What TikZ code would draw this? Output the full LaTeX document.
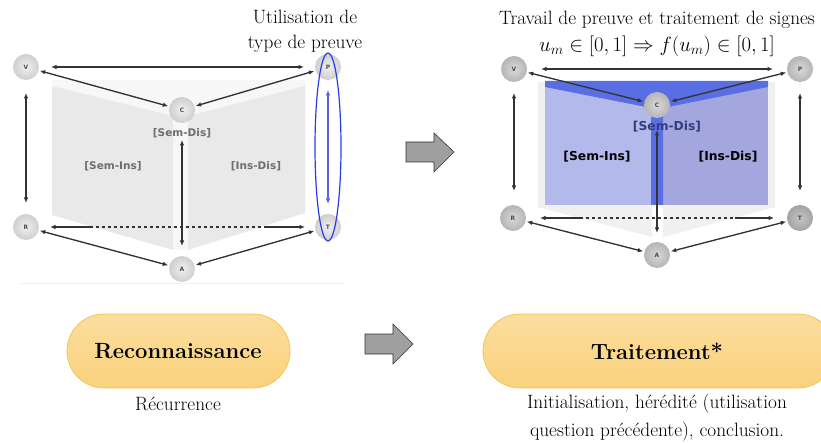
\documentclass[tikz,border=0pt]{standalone}
\usepackage{fontspec}
\usetikzlibrary{arrows.meta,shapes.geometric}
\newfontfamily\lblfont{DejaVu Sans}
\definecolor{pill}{RGB}{250,210,125}
\definecolor{pilledge}{RGB}{245,195,90}
\definecolor{bandblue}{RGB}{90,110,228}
\definecolor{lblue}{RGB}{180,185,236}
\definecolor{dblue}{RGB}{163,167,221}
\definecolor{ovalblue}{RGB}{40,60,230}
\definecolor{lbltxt}{RGB}{110,110,110}
\definecolor{semdis}{RGB}{50,60,130}
\begin{document}
\begin{tikzpicture}[x=1pt,y=-1pt,
  ball/.style 2 args={circle,minimum size=26pt,inner sep=0pt,draw=none,
    shade,shading=radial,inner color=#1,outer color=#2,
    font=\lblfont\bfseries\fontsize{6}{6}\selectfont,text=black!70},
  lball/.style={ball={gray!12}{gray!38}},
  rball/.style={ball={gray!30}{gray!58}},
  tball/.style={ball={gray!45}{gray!72}},
  link/.style={{Latex[length=5.5pt,width=4.5pt]}-{Latex[length=5.5pt,width=4.5pt]},line width=1.35pt,black!80,shorten <=1pt,shorten >=1pt},
  half/.style={line width=1.35pt,black!80,-{Latex[length=5.5pt,width=4.5pt]}},
  lbl/.style={font=\lblfont\bfseries\fontsize{10.5}{11}\selectfont},
  rlbl/.style={font=\lblfont\bfseries\fontsize{12.3}{13}\selectfont},
  pillbox/.style={rounded corners=37pt,draw=pilledge,line width=0.8pt,top color=pill!75,bottom color=pill},
  bigarrow/.style={draw=black!80,fill=gray!75,line width=0.6pt,line join=miter},
  captxt/.style={font=\fontsize{19.3}{26}\selectfont,align=center},
  pilltxt/.style={font=\bfseries\fontsize{22}{24}\selectfont}
]
\useasboundingbox (0,0) rectangle (821,443);

% ---------------- left diagram ----------------
\fill[gray!6] (52,80) -- (305,80) -- (305,213) -- (188,250) -- (173,250) -- (52,215) -- cycle;
\fill[gray!17] (52,86) -- (173,116) -- (173,250) -- (52,215) -- cycle;
\fill[gray!17] (188,116) -- (305,86) -- (305,213) -- (188,250) -- cycle;
\draw[gray!12,line width=0.8pt] (20,283) -- (345,283);

\node[lball] (V) at (26,67) {V};
\node[lball] (P) at (328,67) {P};
\node[lball] (C) at (182,110) {C};
\node[lball] (R) at (26,227) {R};
\node[lball] (T) at (328,227) {T};
\node[lball] (A) at (182,269) {A};

\node[lbl,text=lbltxt] (LSD) at (182,133) {[Sem-Dis]};
\node[lbl,text=lbltxt] (LSI) at (113,166) {[Sem-Ins]};
\node[lbl,text=lbltxt] (LID) at (256,166) {[Ins-Dis]};

\coordinate (lv1) at (26,92); \coordinate (lv2) at (26,204);
\coordinate (lh1) at (50,67); \coordinate (lh2) at (305,67);
\coordinate (lr1) at (50,227); \coordinate (lr2) at (305,227);
\coordinate (lra) at (90,227); \coordinate (lrb) at (265,227);
\coordinate (lc1) at (182,139); \coordinate (lc2) at (182,247);
\coordinate (lp1) at (328,90); \coordinate (lp2) at (328,204);
\draw[link] (lh1) -- (lh2);
\draw[link] (V) -- (C);
\draw[link] (P) -- (C);
\draw[link] (R) -- (A);
\draw[link] (T) -- (A);
\draw[link] (lv1) -- (lv2);
\draw[link] (lc1) -- (lc2);
\draw[half] (lra) -- (lr1);
\draw[half] (lrb) -- (lr2);
\draw[line width=1.35pt,black!80,dashed] (lra) -- (lrb);
\draw[{Latex[length=5.5pt,width=4.5pt]}-{Latex[length=5.5pt,width=4.5pt]},line width=1.5pt,ovalblue!80] (lp1) -- (lp2);
\node[draw=ovalblue,line width=1.2pt,ellipse,minimum width=26pt,minimum height=188pt,inner sep=0pt] (OV) at (328,147) {};

\node[captxt,font=\fontsize{19.3}{25}\selectfont] (UT) at (305,31) {Utilisation de\\type de preuve};

% ---------------- right diagram ----------------
\fill[gray!12] (538,82) -- (652,82) -- (652,237) -- (538,207) -- cycle;
\fill[gray!12] (663,82) -- (775,82) -- (775,207) -- (663,237) -- cycle;
\fill[lblue] (545,82) rectangle (657,205);
\fill[dblue] (657,82) rectangle (768,205);
\fill[bandblue] (545,81) -- (768,81) -- (768,87) -- (663,108) -- (663,205) -- (651,205) -- (651,108) -- (545,87) -- cycle;

\node[rball] (V2) at (514,69) {V};
\node[rball] (P2) at (800,69) {P};
\node[rball] (C2) at (657,105) {C};
\node[rball] (R2) at (513,218) {R};
\node[tball] (T2) at (800,218) {T};
\node[rball] (A2) at (657,255) {A};

\node[rlbl,text=semdis] (RSD) at (667,127) {[Sem-Dis]};
\node[rlbl,text=black] (RSI) at (597,157) {[Sem-Ins]};
\node[rlbl,text=black] (RID) at (728,157) {[Ins-Dis]};

\coordinate (rv1) at (514,92); \coordinate (rv2) at (514,192);
\coordinate (rp1) at (800,92); \coordinate (rp2) at (800,192);
\coordinate (rh1) at (540,69); \coordinate (rh2) at (774,69);
\coordinate (rr1) at (540,218); \coordinate (rr2) at (774,218);
\coordinate (rra) at (580,218); \coordinate (rrb) at (735,218);
\coordinate (rc1) at (657,129); \coordinate (rc2) at (657,234);
\draw[link] (rh1) -- (rh2);
\draw[link] (V2) -- (C2);
\draw[link] (P2) -- (C2);
\draw[link] (R2) -- (A2);
\draw[link] (T2) -- (A2);
\draw[link] (rv1) -- (rv2);
\draw[link] (rp1) -- (rp2);
\draw[link,line width=1.8pt] (rc1) -- (rc2);
\draw[half] (rra) -- (rr1);
\draw[half] (rrb) -- (rr2);
\draw[line width=1.35pt,black!80,dashed] (rra) -- (rrb);

\node[captxt] (TT) at (657,20) {Travail de preuve et traitement de signes};
\node[font=\fontsize{19.8}{22}\selectfont] (MM) at (657,46) {$u_m\in[0,1]\Rightarrow f(u_m)\in[0,1]$};

% ---------------- big arrows ----------------
\draw[bigarrow] (406,142) -- (434,142) -- (434,133) -- (454,152) -- (434,172) -- (434,162) -- (406,162) -- cycle;
\draw[bigarrow] (365,334) -- (393,334) -- (393,324) -- (413,344) -- (393,364) -- (393,354) -- (365,354) -- cycle;

% ---------------- pills ----------------
\draw[pillbox] (67,314) rectangle (290,388);
\node[pilltxt] (REC) at (178,351) {Reconnaissance};
\node[captxt] (RCC) at (178,404) {Récurrence};
\draw[pillbox] (483,314) rectangle (835,388);
\node[pilltxt] (TRA) at (657,351) {Traitement*};
\node[captxt,font=\fontsize{19.3}{28}\selectfont] (TRC) at (657,418) {Initialisation, hérédité (utilisation\\question précédente), conclusion.};
\end{tikzpicture}
\end{document}
